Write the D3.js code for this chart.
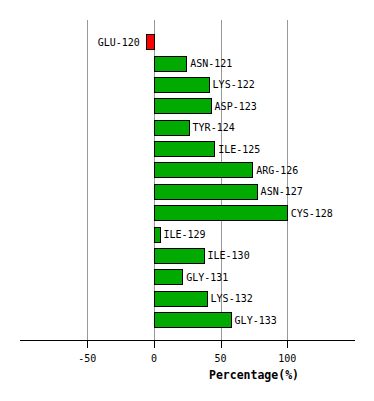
<!DOCTYPE html>
<html>
<head>
<meta charset="utf-8">
<script src="https://cdn.jsdelivr.net/npm/d3@7"></script>
<style>
  body { margin: 0; background: #fff; }
  text { font-family: "DejaVu Sans Mono", monospace; }
</style>
</head>
<body>
<script>
// residues and percentage values
var residues = ["GLU-120", "ASN-121", "LYS-122", "ASP-123", "TYR-124", "ILE-125", "ARG-126",
                "ASN-127", "CYS-128", "ILE-129", "ILE-130", "GLY-131", "LYS-132", "GLY-133"];
var percents = [-6, 24.2, 41, 42.5, 26, 45.2, 73.7, 77, 99.5, 4.2, 37.2, 21.2, 39.5, 57.5];
var tickValues = [-50, 0, 50, 100];

var width = 374, height = 401;

var svg = d3.select("body").append("svg")
    .attr("width", width)
    .attr("height", height);

var x = d3.scaleLinear().domain([-100, 150]).range([20.5, 354]);
var y = d3.scaleBand().domain(residues).range([31, 330.3])
    .paddingInner(0.3).paddingOuter(0.15);

var axisY = 340;

// grid lines
svg.selectAll(".grid")
    .data(tickValues)
    .enter().append("line")
    .attr("class", "grid")
    .attr("x1", d => Math.round(x(d)) + 0.5)
    .attr("x2", d => Math.round(x(d)) + 0.5)
    .attr("y1", 20)
    .attr("y2", axisY)
    .style("stroke", "#999")
    .style("stroke-width", 1);

// bars
var data = residues.map((r, i) => ({ name: r, value: percents[i] }));

svg.selectAll(".bar")
    .data(data)
    .enter().append("rect")
    .attr("class", "bar")
    .attr("x", d => Math.round(x(Math.min(0, d.value))) + 0.5)
    .attr("y", d => Math.round(y(d.name)) + 0.5)
    .attr("width", d => Math.round(Math.abs(x(d.value) - x(0))))
    .attr("height", Math.round(y.bandwidth()))
    .style("fill", d => d.value < 0 ? "#ff0000" : "#00aa00")
    .style("stroke", "#000")
    .style("stroke-width", 1);

svg.selectAll(".label")
    .data(data)
    .enter().append("text")
    .attr("class", "label")
    .attr("x", d => d.value < 0 ? x(d.value) - 6 : x(d.value) + 4)
    .attr("y", d => y(d.name) + y.bandwidth() / 2 + 4)
    .attr("text-anchor", d => d.value < 0 ? "end" : "start")
    .style("font-size", "10px")
    .text(d => d.name);

// x axis
var axis = svg.append("g")
    .attr("transform", "translate(0," + axisY + ")");

axis.append("line")
    .attr("x1", 20)
    .attr("x2", 355)
    .attr("y1", 0.5)
    .attr("y2", 0.5)
    .style("stroke", "#000");

axis.selectAll(".tick")
    .data(tickValues)
    .enter().append("line")
    .attr("x1", d => Math.round(x(d)) + 0.5)
    .attr("x2", d => Math.round(x(d)) + 0.5)
    .attr("y1", 0)
    .attr("y2", 8)
    .style("stroke", "#000");

axis.selectAll(".tick-label")
    .data(tickValues)
    .enter().append("text")
    .attr("x", d => x(d))
    .attr("y", 22)
    .attr("text-anchor", "middle")
    .style("font-size", "10px")
    .text(d => d);

svg.append("text")
    .attr("x", 254)
    .attr("y", 379)
    .attr("text-anchor", "middle")
    .style("font-size", "11.5px")
    .style("font-weight", "bold")
    .text("Percentage(%)");
</script>
</body>
</html>
